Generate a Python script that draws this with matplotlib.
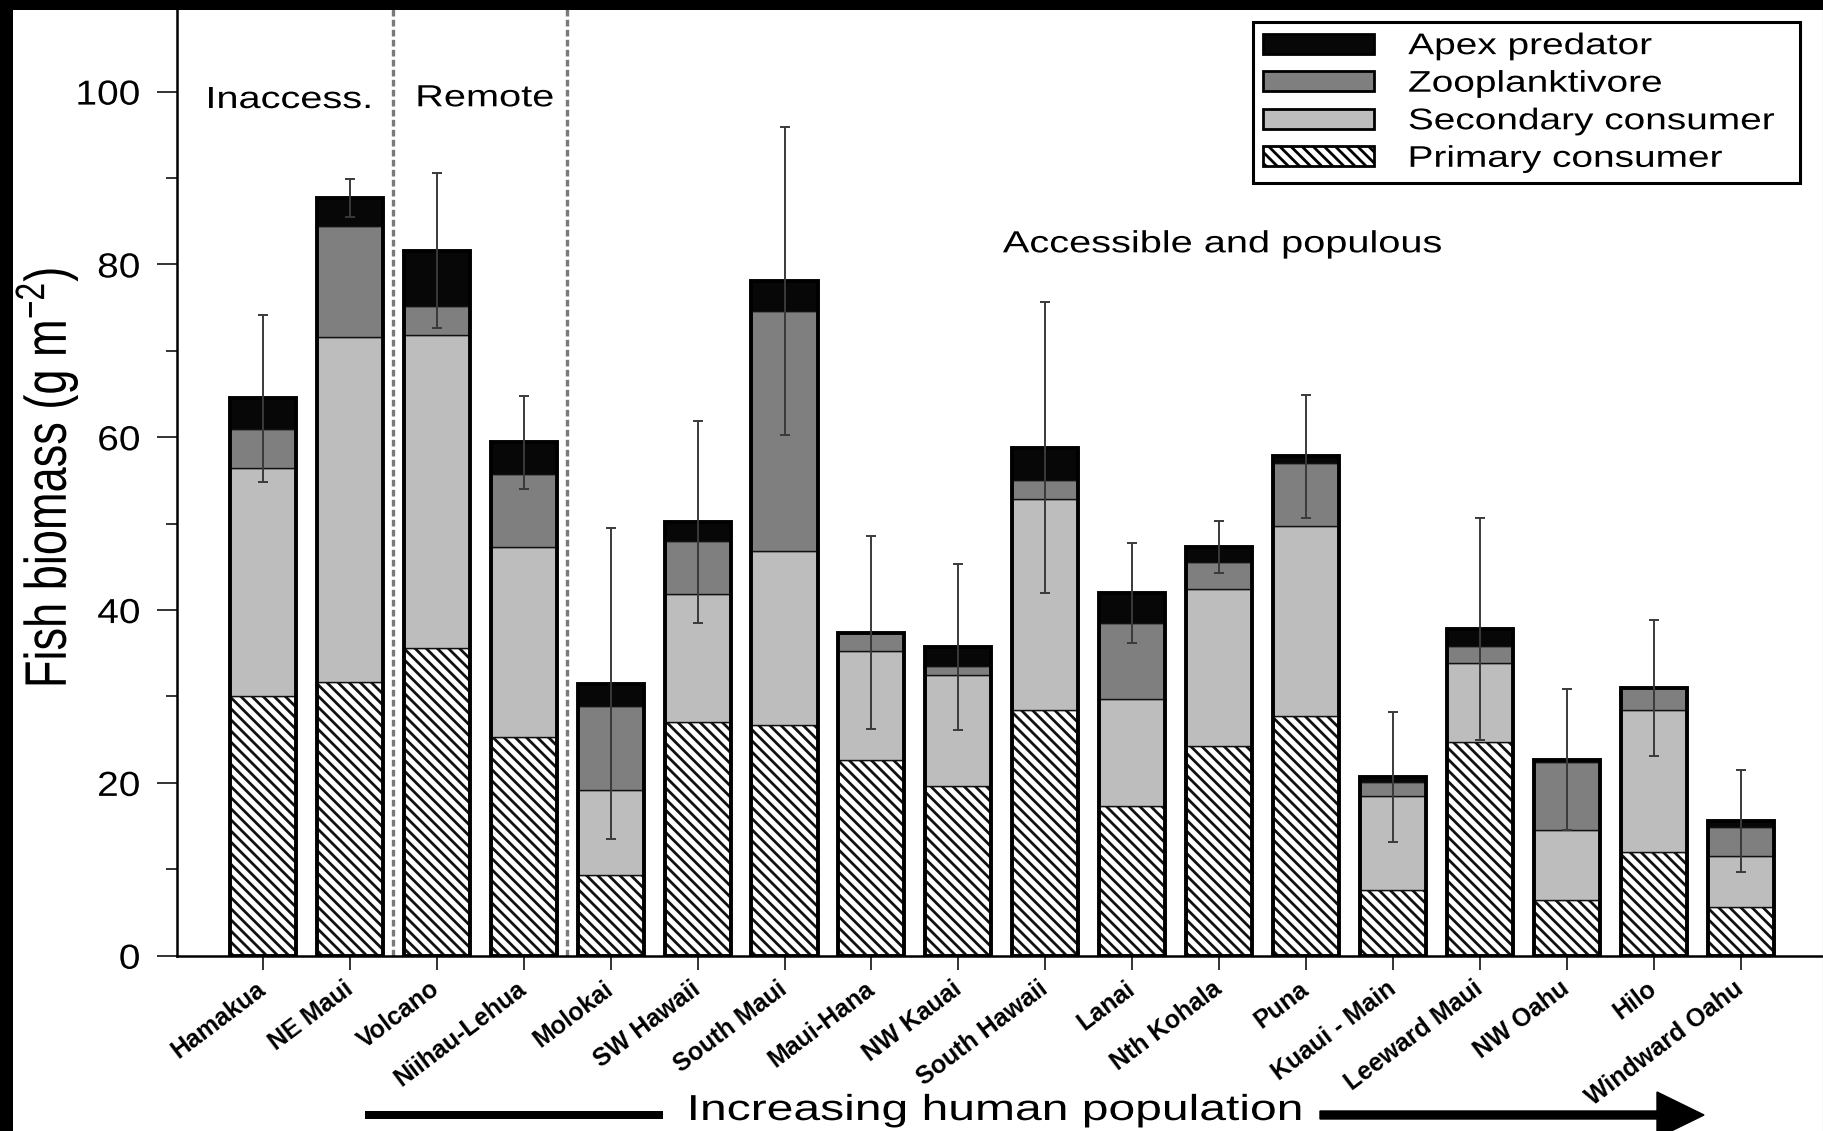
import matplotlib
matplotlib.use('Agg')
import matplotlib.pyplot as plt
import numpy as np
from matplotlib.patches import Patch, Rectangle, FancyArrow
from matplotlib.lines import Line2D
from matplotlib.patheffects import AbstractPathEffect
from matplotlib.transforms import Affine2D
from matplotlib.ticker import MultipleLocator

plt.rcParams['font.family'] = ['Liberation Sans', 'DejaVu Sans']
plt.rcParams['mathtext.fontset'] = 'custom'
plt.rcParams['mathtext.rm'] = 'Liberation Sans'
plt.rcParams['mathtext.it'] = 'Liberation Sans:italic'
plt.rcParams['hatch.linewidth'] = 2.0

# sites ordered by increasing human population
sites = ['Hamakua', 'NE Maui', 'Volcano', 'Niihau-Lehua', 'Molokai', 'SW Hawaii',
         'South Maui', 'Maui-Hana', 'NW Kauai', 'South Hawaii', 'Lanai', 'Nth Kohala',
         'Puna', 'Kuaui - Main', 'Leeward Maui', 'NW Oahu', 'Hilo', 'Windward Oahu']

# biomass per trophic group, g m-2
primary   = [30.1, 31.7, 35.6, 25.3, 9.3, 27.0, 26.7, 22.6, 19.6, 28.4, 17.3, 24.3, 27.7, 7.6, 24.7, 6.4, 12.0, 5.6]
secondary = [26.3, 39.9, 36.2, 22.0, 9.9, 14.9, 20.1, 12.7, 12.9, 24.5, 12.4, 18.1, 22.0, 10.9, 9.2, 8.2, 16.4, 5.9]
zooplankt = [4.6, 12.8, 3.4, 8.4, 9.7, 6.1, 27.8, 2.1, 1.0, 2.2, 8.8, 3.2, 7.3, 1.6, 1.9, 7.8, 2.6, 3.4]
apex      = [3.5, 3.3, 6.4, 3.7, 2.6, 2.2, 3.5, 0.0, 2.2, 3.7, 3.5, 1.7, 0.8, 0.6, 2.0, 0.3, 0.0, 0.7]
# error on total biomass
sem       = [9.7, 2.2, 9.0, 5.4, 18.0, 11.7, 17.8, 11.2, 9.6, 16.8, 5.8, 3.0, 7.1, 7.5, 12.8, 8.2, 7.9, 5.9]

groups = ['Inaccess.', 'Remote', 'Accessible and populous']
group_pos = [(0.30, 98.1), (2.55, 98.3), (11.03, 81.4)]
dividers = [1.5, 3.5]


class Stretch(AbstractPathEffect):
    """Widen text horizontally on the canvas, keeping one edge in place."""
    def __init__(self, sx=1.3, anchor='center'):
        super().__init__()
        self.sx = sx
        self.anchor = anchor

    def draw_path(self, renderer, gc, tpath, affine, rgbFace=None):
        bb = tpath.get_extents(affine)
        if self.anchor == 'left':
            x0 = bb.x0
        elif self.anchor == 'right':
            x0 = bb.x1
        else:
            x0 = 0.5 * (bb.x0 + bb.x1)
        t = affine + Affine2D().translate(-x0, 0).scale(self.sx, 1).translate(x0, 0)
        renderer.draw_path(gc, tpath, t, rgbFace)


W, H = 1824, 1131
fig = plt.figure(figsize=(W / 100, H / 100), dpi=100)
fig.patch.set_facecolor('white')
ax = fig.add_axes([177 / W, 175.3 / H, 1 - 177 / W, 955.7 / H])

x = np.arange(len(sites))
width = 0.76
layers = [(primary, 'white', '\\\\\\'),
          (secondary, '#bdbdbd', None),
          (zooplankt, '#7f7f7f', None),
          (apex, '#070707', None)]
bottom = np.zeros(len(sites))
for vals, col, hatch in layers:
    ax.bar(x, vals, width, bottom=bottom, color=col, hatch=hatch,
           edgecolor='#111111', linewidth=1.0, zorder=2)
    bottom += np.array(vals)
total = bottom

# heavy outline round each stack
ax.bar(x, total, width, fill=False, edgecolor='black', linewidth=2.8, zorder=3)
ax.errorbar(x, total, yerr=sem, fmt='none', ecolor='#3a3a3a', elinewidth=1.4,
            capsize=3.6, capthick=1.4, zorder=4)

for d in dividers:
    ax.axvline(d, color='#7a7a7a', linewidth=2.4, dashes=(2, 1), zorder=1)

for name, (gx, gy) in zip(groups, group_pos):
    t = ax.text(gx, gy, name, ha='center', va='baseline', fontsize=22)
    t.set_path_effects([Stretch(1.3, 'center')])

ax.set_xlim(-0.99, 17.96)
ax.set_ylim(0, 110.6)
ax.spines['top'].set_visible(False)
ax.spines['right'].set_visible(False)
ax.spines['left'].set_linewidth(1.8)
ax.spines['bottom'].set_linewidth(1.8)

ax.set_xticks(x)
ax.set_xticklabels(sites, rotation=37, ha='right', va='center',
                   rotation_mode='anchor', fontsize=18, fontweight='bold')
ax.set_yticks(range(0, 101, 20))
ax.yaxis.set_minor_locator(MultipleLocator(10))
ax.tick_params(axis='x', length=10, width=1.4, color='#333333', pad=12)
ax.tick_params(axis='y', which='major', length=14.4, width=1.4, color='#333333',
               labelsize=25, pad=12)
ax.tick_params(axis='y', which='minor', length=8, width=1.4, color='#333333')
for lbl in ax.get_yticklabels():
    lbl.set_path_effects([Stretch(1.12, 'right')])

ax.set_ylabel('Fish biomass (g m$^{-2}$)', fontsize=32.5)
ax.yaxis.set_label_coords((80 - 177) / (W - 177), 0.5)
ax.yaxis.label.set_path_effects([Stretch(1.3, 'right')])

handles = [Patch(facecolor='#070707', edgecolor='black', linewidth=2, label='Apex predator'),
           Patch(facecolor='#7f7f7f', edgecolor='black', linewidth=2, label='Zooplanktivore'),
           Patch(facecolor='#bdbdbd', edgecolor='black', linewidth=2, label='Secondary consumer'),
           Patch(facecolor='white', edgecolor='black', linewidth=2, hatch='\\\\\\',
                 label='Primary consumer')]
leg = ax.legend(handles=handles, loc='upper left',
                bbox_to_anchor=(0.6533, 0.8088, 0.3321, 0.1685), mode='expand',
                borderaxespad=0, fontsize=21.5, handlelength=3.7, handleheight=0.64,
                handletextpad=1.15, labelspacing=0.32, borderpad=0.35,
                fancybox=False, edgecolor='black', framealpha=1)
leg.get_frame().set_linewidth(2.2)
for t in leg.get_texts():
    t.set_path_effects([Stretch(1.3, 'left')])

# population gradient arrow along the bottom
fig.add_artist(Line2D([3.645, 6.63], [0.16, 0.16], transform=fig.dpi_scale_trans,
                      color='black', linewidth=5.76, solid_capstyle='butt'))
fig.add_artist(FancyArrow(13.2, 0.16, 17.04 - 13.2, 0, width=0.08, head_width=0.46,
                          head_length=0.47, length_includes_head=True,
                          transform=fig.dpi_scale_trans, color='black'))
pop = fig.text(995 / W, 11 / H, 'Increasing human population', ha='center',
               va='baseline', fontsize=26)
pop.set_path_effects([Stretch(1.33, 'center')])

# dark frame along the top and left edges, hairline at the right
fig.add_artist(Rectangle((0, 1 - 10 / H), 1, 10 / H, transform=fig.transFigure,
                         facecolor='black', edgecolor='none', zorder=10))
fig.add_artist(Rectangle((0, 0), 13 / W, 1, transform=fig.transFigure,
                         facecolor='black', edgecolor='none', zorder=10))
fig.add_artist(Line2D([1 - 0.5 / W] * 2, [0, 1], transform=fig.transFigure,
                      color='#a0a0a0', linewidth=0.8))

fig.savefig('out.png', dpi=100)
